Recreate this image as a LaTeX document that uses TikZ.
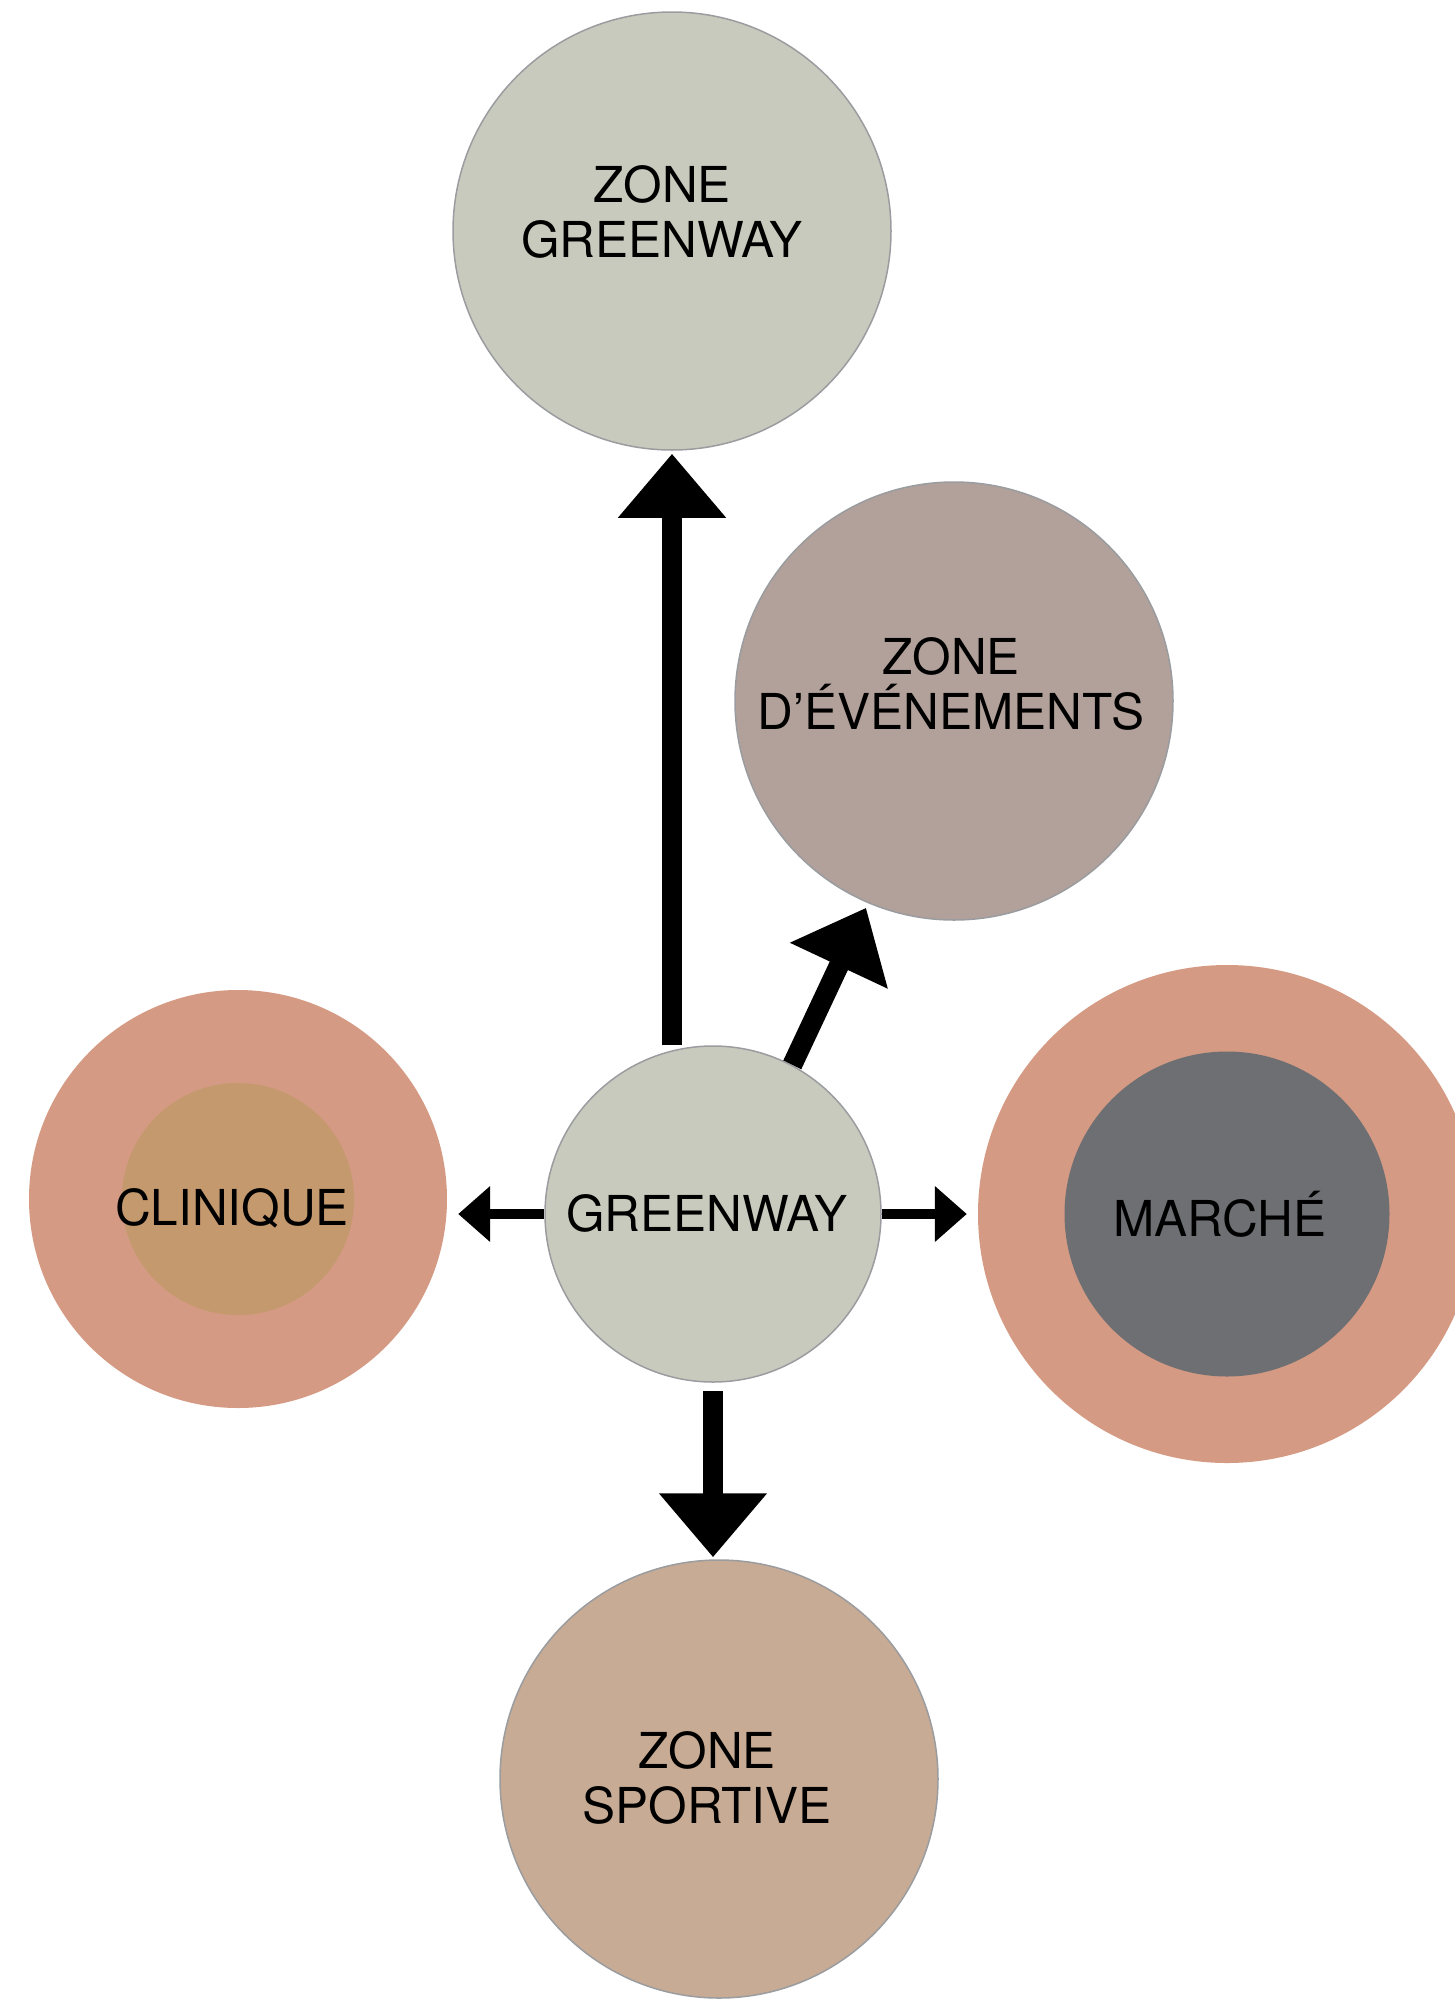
\documentclass[tikz,border=0pt]{standalone}
\usepackage{fontspec}
\setmainfont{TeX Gyre Heros}
\usetikzlibrary{arrows.meta,backgrounds}
\definecolor{gwfill}{HTML}{C8CABD}
\definecolor{defill}{HTML}{B1A19A}
\definecolor{terra}{HTML}{D49A83}
\definecolor{clinin}{HTML}{C4996D}
\definecolor{mcin}{HTML}{6E6F73}
\definecolor{zsfill}{HTML}{C7AB94}
\definecolor{edgegray}{HTML}{9A9CA0}
\begin{document}
\begin{tikzpicture}[x=1pt,y=-1pt,
  zone/.style={circle,draw=edgegray,line width=1.5pt,inner sep=0pt},
  plain/.style={circle,draw=none,inner sep=0pt},
  lbl/.style={font=\fontsize{49.5}{55}\selectfont,align=center,anchor=base,inner sep=0pt},
  bigarrow/.style={line width=20pt,-{Triangle[length=64pt,width=104pt]}},
  smallarrow/.style={line width=10pt,-{Triangle[length=32pt,width=54pt]}}]
\clip (0,0) rectangle (1455,2000);
\useasboundingbox (0,0) rectangle (1455,2000);
% circles
\node[zone,fill=gwfill,minimum size=438pt] (zg) at (672,231) {};
\node[zone,fill=defill,minimum size=438pt] (de) at (954,701) {};
\node[zone,fill=gwfill,minimum size=336pt] (gw) at (713,1214) {};
\node[plain,fill=terra,minimum size=418pt] (clo) at (238,1199) {};
\node[plain,fill=clinin,minimum size=232pt] (cli) at (238,1199) {};
\node[plain,fill=terra,minimum size=498pt] (mco) at (1227,1214) {};
\node[plain,fill=mcin,minimum size=325pt] (mci) at (1227,1214) {};
\node[zone,fill=zsfill,minimum size=438pt] (zs) at (719,1779) {};
% labels (base anchor = baseline of last line)
\node[lbl] (zgt) at (662,257) {ZONE\\GREENWAY};
\node[lbl] (det) at (951,729) {ZONE\\D’ÉVÉNEMENTS};
\node[lbl] (clt) at (232,1225) {CLINIQUE};
\node[lbl] (gwt) at (707,1231) {GREENWAY};
\node[lbl] (mct) at (1220,1236) {MARCHÉ};
\node[lbl] (zst) at (707,1823) {ZONE\\SPORTIVE};
% arrows
\begin{scope}[on background layer]
\draw[bigarrow,shorten >=3pt] (zg.south |- gw.north) -- (zg.south);
\draw[bigarrow,shorten >=5pt] (gw.62) -- (de.247);
\draw[bigarrow,shorten <=8pt,shorten >=2pt] (gw.south) -- (gw.south |- zs.north);
\draw[smallarrow,shorten >=11pt] (gw.west) -- (clo.east |- gw.west);
\draw[smallarrow,shorten >=11pt] (gw.east) -- (mco.west |- gw.east);
\end{scope}
\end{tikzpicture}
\end{document}
